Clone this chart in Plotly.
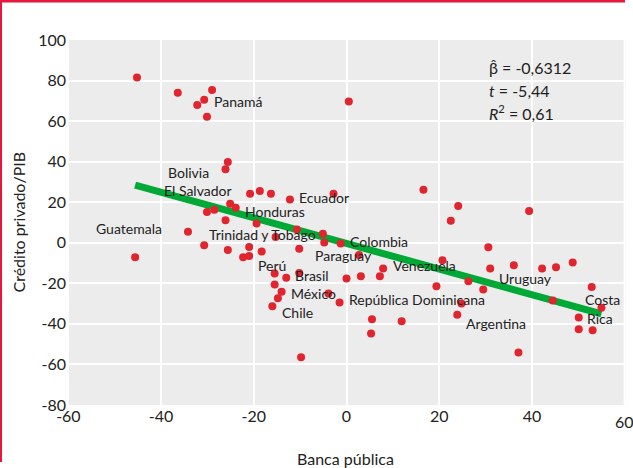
import plotly.graph_objects as go

# Data
banca_publica = [-45.2, -36.4, -29.0, -30.7, -32.2, -30.1, -25.6, -26.1, -20.8, -18.7,
                 -16.3, -12.2, -25.1, -23.9, -28.5, -30.1, -26.1, -19.4, -34.2, -10.7,
                 -15.3, -30.7, -25.6, -21.0, -18.3, -22.3, -21.0, -45.6, -10.2, -15.5,
                 -13.0, -10.2, -15.5, -14.0, -14.8, -16.0, -3.9, -1.5, 0.0, 3.1,
                 -9.8, -4.8, -1.25, -2.8, 16.6, 24.1, 22.5, -5.1, 2.7, 7.9,
                 20.7, 7.2, 19.4, 39.4, 30.6, 31.0, 36.1, 42.2, 45.2, 48.8,
                 26.3, 29.5, 52.9, 24.8, 23.9, 11.9, 44.5, 55.0, 50.1, 50.1,
                 53.1, 37.1, 5.5, 5.3, 0.5]
credito_privado = [81.5, 74.0, 75.4, 70.5, 68.0, 62.1, 39.8, 36.2, 24.2, 25.5,
                   24.2, 21.3, 19.3, 17.3, 16.3, 15.2, 11.1, 9.5, 5.5, 6.6,
                   2.9, -1.2, -3.5, -2.1, -4.3, -7.1, -6.5, -7.1, -3.0, -15.2,
                   -17.2, -14.9, -20.6, -24.2, -27.3, -31.3, -25.0, -29.4, -17.6, -16.5,
                   -56.5, 0.1, -0.4, 24.2, 26.2, 18.1, 10.9, 4.5, -6.0, -12.7,
                   -8.6, -16.5, -21.4, 15.7, -2.2, -12.7, -11.1, -12.7, -12.1, -9.7,
                   -19.0, -23.0, -21.8, -29.9, -35.5, -38.7, -28.5, -32.1, -36.8, -42.7,
                   -43.1, -54.1, -37.7, -44.7, 69.7]

beta = -0.6312
intercept = -0.34

labels = ["Panamá", "Bolivia", "El Salvador", "Honduras", "Guatemala", "Trinidad y Tobago",
          "Ecuador", "Colombia", "Paraguay", "Venezuela", "Perú", "Brasil", "México",
          "Chile", "República Dominicana", "Uruguay", "Argentina", "Costa", "Rica"]
label_x = [-29.0, -39.0, -39.7, -22.4, -54.4, -30.1, -10.6, 0.4, -7.3, 9.5, -19.5, -11.5,
           -12.4, -14.3, 0.2, 32.5, 25.3, 51.1, 51.4]
label_y = [69.5, 34.6, 25.8, 15.5, 7.0, 4.2, 22.5, 0.7, -6.3, -11.1, -11.1, -16.0,
           -25.0, -34.6, -27.8, -17.5, -39.6, -27.8, -37.2]

x_ticks = [-60, -40, -20, 0, 20, 40]
x_ticktext = ["-60", "-40", "-20", "0", "20", "40"]
x_last_tick = 60
x_last_ticktext = "60"
y_ticks = [-80, -60, -40, -20, 0, 20, 40, 60, 80, 100]
y_ticktext = ["-80", "-60", "-40", "-20", "0", "20", "40", "60", "80", "100"]

stats_text = ["β̂ = -0,6312", "<i>t</i> = -5,44", "<i>R</i><sup>2</sup> = 0,61"]
stats_y = [86.6, 75.1, 64.4]

x_title = "Banca pública"
y_title = "Crédito privado/PIB"

FONT = "Lato, Roboto, Liberation Sans, sans-serif"
W, H = 633, 468
L, R, T, B = 67, 7, 40, 63
PW, PH = W - L - R, H - T - B


def px_x(p):
    return (p - L) / PW


def px_y(p):
    return 1 - (p - T) / PH


fig = go.Figure()

xmin, xmax = min(banca_publica), max(banca_publica)
fig.add_trace(go.Scatter(
    x=[xmin, xmax], y=[intercept + beta * xmin, intercept + beta * xmax],
    mode="lines", line=dict(color="#00a835", width=7), hoverinfo="skip"))

fig.add_trace(go.Scatter(
    x=banca_publica, y=credito_privado, mode="markers",
    marker=dict(color="#e0252f", size=8, line=dict(width=0))))

for t, x, y in zip(labels, label_x, label_y):
    fig.add_annotation(x=x, y=y, text=t, showarrow=False, xanchor="left",
                       yanchor="middle", font=dict(family=FONT, size=14, color="#222"))

for t, y in zip(stats_text, stats_y):
    fig.add_annotation(x=30.3, y=y, text=t, showarrow=False, xanchor="left",
                       yanchor="middle", font=dict(family=FONT, size=16, color="#222"))

# last x tick label (at the right edge, as in the reference)
fig.add_annotation(x=x_last_tick, xref="x", yref="paper", y=px_y(421),
                   text=x_last_ticktext, showarrow=False, xanchor="center", yanchor="middle",
                   font=dict(family=FONT, size=16, color="#222"))

# axis titles
fig.add_annotation(xref="paper", yref="paper", x=px_x(345), y=px_y(458),
                   text=x_title, showarrow=False, xanchor="center", yanchor="middle",
                   font=dict(family=FONT, size=16, color="#222"))
fig.add_annotation(xref="paper", yref="paper", x=px_x(18), y=0.5,
                   text=y_title, showarrow=False, textangle=-90, xanchor="center",
                   yanchor="middle", font=dict(family=FONT, size=16, color="#222"))

# red frame (top and left), drawn as thin filled rectangles
fig.add_shape(type="rect", xref="paper", yref="paper",
              x0=px_x(0), x1=px_x(625), y0=px_y(-1), y1=px_y(2.5),
              fillcolor="#e5173f", line=dict(width=0), layer="above")
fig.add_shape(type="rect", xref="paper", yref="paper",
              x0=px_x(-1), x1=px_x(2), y0=px_y(0), y1=px_y(462),
              fillcolor="#e5173f", line=dict(width=0), layer="above")

fig.update_layout(
    width=W, height=H,
    margin=dict(l=L, r=R, t=T, b=B, autoexpand=False),
    paper_bgcolor="white", plot_bgcolor="#ececec",
    showlegend=False,
    font=dict(family=FONT, size=15, color="#222"),
    xaxis=dict(range=[-60.3, 60.3], tickvals=x_ticks, ticktext=x_ticktext,
               gridcolor="white", gridwidth=2,
               zeroline=False, showline=False, ticks="", automargin=False,
               tickfont=dict(size=16)),
    yaxis=dict(range=[-80, 100], tickvals=y_ticks, ticktext=y_ticktext,
               gridcolor="white", gridwidth=2,
               zeroline=False, showline=False, ticks="", automargin=False,
               tickfont=dict(size=16)),
)
# white gridline at x=60 (the last tick)
fig.add_shape(type="line", xref="x", yref="paper", x0=x_last_tick, x1=x_last_tick,
              y0=0, y1=1, line=dict(color="white", width=2), layer="below")

post = (
    "document.body.style.margin='0';document.body.style.overflow='hidden';"
    "var d=document.createElement('div');"
    "d.style.cssText='position:fixed;left:0;top:0;width:625px;height:2px;"
    "background:#e5173f;z-index:1000;pointer-events:none';"
    "document.body.appendChild(d);"
)
fig.write_html("out.html", config={"displayModeBar": False}, post_script=post)
